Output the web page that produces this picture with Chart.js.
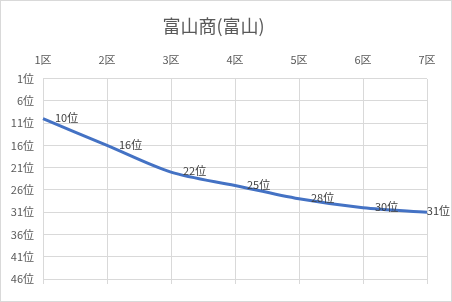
<!DOCTYPE html>
<html>
<head>
<meta charset="utf-8">
<script src="https://cdn.jsdelivr.net/npm/chart.js@4/dist/chart.umd.min.js"></script>
<style>
  html, body { margin: 0; padding: 0; background: #fff; }
  canvas { display: block; }
</style>
</head>
<body>
<canvas id="chart" width="452" height="302"></canvas>
<script>
const sections = ['1区', '2区', '3区', '4区', '5区', '6区', '7区'];
const ranks = [10, 16, 22, 25, 28, 30, 31];
const rankTicks = [1, 6, 11, 16, 21, 26, 31, 36, 41, 46];

const FONT = '"Noto Sans CJK JP", "Noto Sans", sans-serif';

// Frame around the whole chart, like the Excel chart area
const framePlugin = {
  id: 'frame',
  afterDraw(chart) {
    const ctx = chart.ctx;
    ctx.save();
    ctx.strokeStyle = '#d9d9d9';
    ctx.lineWidth = 1;
    ctx.strokeRect(0.5, 0.5, chart.width - 1, chart.height - 1);
    ctx.restore();
  }
};

// Value labels to the right of each point
const labelPlugin = {
  id: 'pointLabels',
  afterDatasetsDraw(chart) {
    const ctx = chart.ctx;
    const meta = chart.getDatasetMeta(0);
    ctx.save();
    ctx.font = '11px ' + FONT;
    ctx.fillStyle = '#404040';
    ctx.textBaseline = 'middle';
    meta.data.forEach((pt, i) => {
      const text = ranks[i] + '位';
      const w = ctx.measureText(text).width;
      let x = pt.x + 12;
      if (x + w > chart.width - 2) x = chart.width - 2 - w;
      ctx.fillText(text, x, pt.y - 1);
    });
    ctx.restore();
  }
};

new Chart(document.getElementById('chart'), {
  type: 'line',
  data: {
    labels: sections,
    datasets: [{
      data: ranks,
      borderColor: '#4472c4',
      borderWidth: 3,
      tension: 0.3,
      pointRadius: 0,
      fill: false,
      xAxisID: 'x',
      yAxisID: 'y'
    }]
  },
  options: {
    responsive: false,
    animation: false,
    layout: { padding: { left: 0, right: 25, top: 0, bottom: 18 } },
    plugins: {
      legend: { display: false },
      tooltip: { enabled: false },
      title: {
        display: true,
        text: '富山商(富山)',
        color: '#595959',
        font: { family: FONT, size: 18, weight: 'normal' },
        padding: { top: 15, bottom: 7 }
      }
    },
    scales: {
      x: {
        type: 'category',
        position: 'top',
        offset: false,
        grid: { color: '#d9d9d9', drawTicks: false },
        border: { display: false },
        ticks: { color: '#595959', font: { family: FONT, size: 11 }, padding: 12, maxRotation: 0 },
        afterFit(scale) { scale.height = 35; }
      },
      x2: {
        type: 'category',
        position: 'bottom',
        labels: sections,
        offset: false,
        grid: { color: '#d9d9d9', drawOnChartArea: false, tickLength: 5 },
        border: { display: true, color: '#d9d9d9' },
        ticks: { display: false },
        afterFit(scale) { scale.height = 5; }
      },
      y: {
        reverse: true,
        min: 1,
        max: 46,
        afterBuildTicks(scale) {
          scale.ticks = rankTicks.map(v => ({ value: v }));
        },
        grid: { color: '#d9d9d9', drawTicks: false },
        border: { display: false },
        ticks: {
          color: '#595959',
          font: { family: FONT, size: 11 },
          padding: 9,
          callback: v => v + '位'
        },
        afterFit(scale) { scale.width = 43; }
      }
    }
  },
  plugins: [framePlugin, labelPlugin]
});
</script>
</body>
</html>
